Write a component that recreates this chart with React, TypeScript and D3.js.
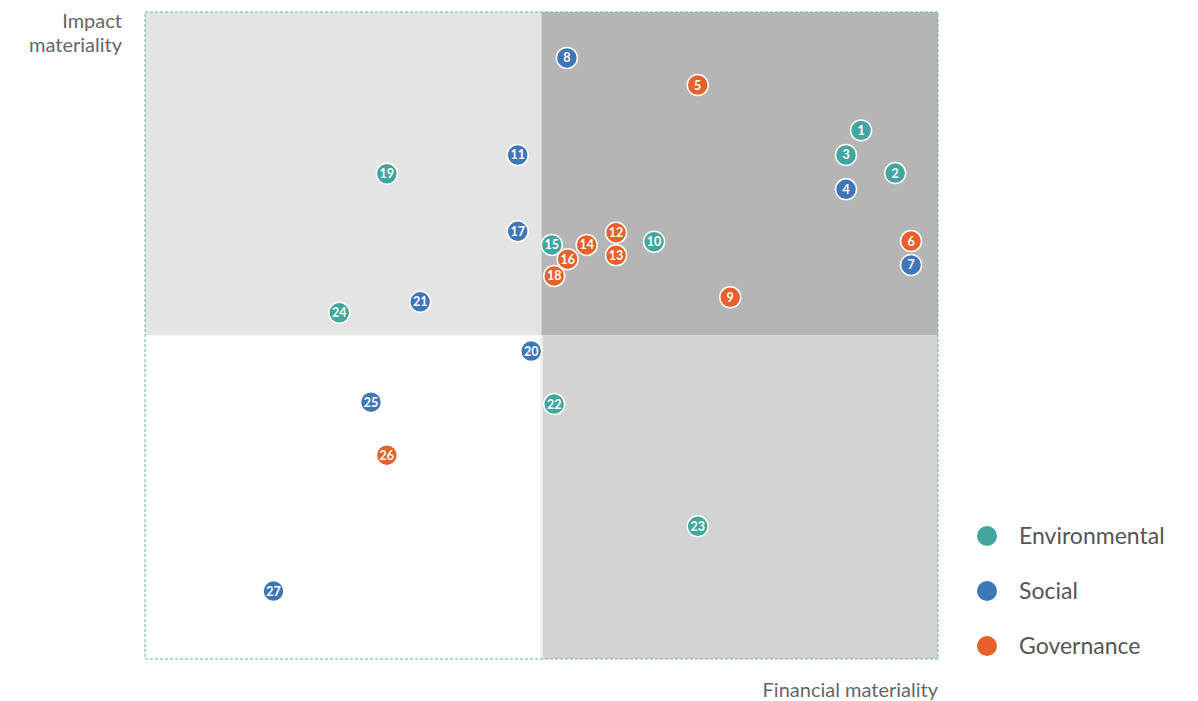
import * as React from 'react';
import * as d3 from 'd3';

// Materiality matrix data (0-10 scale on both axes)
const ids = [
  1, 2, 3, 4, 5, 6, 7, 8, 9, 10, 11, 12, 13, 14, 15, 16, 17, 18, 19, 20, 21, 22, 23, 24, 25, 26, 27,
];
const financial = [
  9.03, 9.46, 8.84, 8.84, 6.97, 9.66, 9.66, 5.32, 7.38, 6.42, 4.7, 5.94, 5.94, 5.57, 5.13, 5.33,
  4.7, 5.16, 3.05, 4.87, 3.47, 5.16, 6.97, 2.45, 2.85, 3.05, 1.62,
];
const impact = [
  8.17, 7.51, 7.79, 7.26, 8.87, 6.46, 6.09, 9.29, 5.59, 6.45, 7.79, 6.59, 6.24, 6.4, 6.4, 6.18,
  6.61, 5.92, 7.5, 4.76, 5.52, 3.94, 2.05, 5.35, 3.97, 3.15, 1.05,
];
const groups = [
  'E', 'E', 'E', 'S', 'G', 'G', 'S', 'S', 'G', 'E', 'S', 'G', 'G', 'G', 'E', 'G', 'S', 'G', 'E',
  'S', 'S', 'E', 'E', 'E', 'S', 'G', 'S',
];
const legendKeys = ['E', 'S', 'G'];
const legendLabels = ['Environmental', 'Social', 'Governance'];
const colors: Record<string, string> = { E: '#41a69f', S: '#3f76b9', G: '#e8612b' };

const width = 1198;
const height = 701;
const left = 145;
const right = 938;
const top = 12;
const bottom = 659;
const font = 'Lato, "Open Sans", sans-serif';

const App: React.FC = () => {
  const x = d3.scaleLinear().domain([0, 10]).range([left, right]);
  const y = d3.scaleLinear().domain([0, 10]).range([bottom, top]);
  const mx = x(5);
  const my = y(5);

  const points = ids.map((id, i) => ({ id, fx: financial[i], iy: impact[i], g: groups[i] }));

  return (
    <svg
      width={width}
      height={height}
      style={{ position: 'absolute', left: 0, top: 0, background: '#fff' }}
    >
      {/* quadrants */}
      <rect x={left} y={top} width={mx - left} height={my - top} fill="#e4e4e4" />
      <rect x={mx} y={top} width={right - mx} height={my - top} fill="#b4b5b4" />
      <rect x={left} y={my} width={mx - left} height={bottom - my} fill="#ffffff" />
      <rect x={mx + 1} y={my} width={right - mx - 1} height={bottom - my} fill="#d2d3d2" />
      <rect x={mx - 1.5} y={my} width={2.5} height={bottom - my} fill="#f0f0f0" />

      {/* dashed frame */}
      <rect
        x={left}
        y={top}
        width={right - left}
        height={bottom - top}
        fill="none"
        stroke="#6db58c"
        strokeWidth={1}
        strokeDasharray="3,2"
      />

      {/* axis titles */}
      <text x={122} y={28} textAnchor="end" fontFamily={font} fontSize={20} fill="#666">
        Impact
      </text>
      <text x={122} y={52} textAnchor="end" fontFamily={font} fontSize={20} fill="#666">
        materiality
      </text>
      <text x={right} y={697} textAnchor="end" fontFamily={font} fontSize={20} fill="#666">
        Financial materiality
      </text>

      {/* points */}
      {points.map((p) => (
        <g key={p.id} transform={`translate(${x(p.fx)},${y(p.iy)})`}>
          <circle r={10.5} fill={colors[p.g]} stroke="#fff" strokeWidth={1.5} />
          <text
            textAnchor="middle"
            dy="0.36em"
            fontFamily={font}
            fontWeight={700}
            fontSize={12.5}
            fill="#fff"
          >
            {p.id}
          </text>
        </g>
      ))}

      {/* legend */}
      {legendKeys.map((k, i) => (
        <g key={k} transform={`translate(987,${536 + i * 55})`}>
          <circle r={10} fill={colors[k]} />
          <text x={32} dy="0.35em" fontFamily={font} fontSize={23} fill="#555">
            {legendLabels[i]}
          </text>
        </g>
      ))}
    </svg>
  );
};

export default App;
